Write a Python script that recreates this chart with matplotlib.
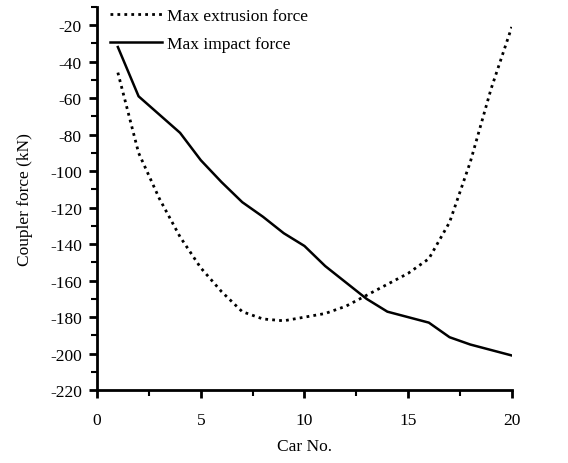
import numpy as np
import matplotlib.pyplot as plt

plt.rcParams['font.family'] = ['Liberation Serif', 'DejaVu Serif']
plt.rcParams['axes.unicode_minus'] = False

# Wagennummern und Kraefte (kN)
car_no = np.arange(1, 21)
extrusion = [-46, -90, -115, -136, -153, -166, -177, -181, -182, -180,
             -178, -174, -168, -162, -156, -148, -128, -95, -55, -21]
impact = [-32, -59, -69, -79, -94, -106, -117, -125, -134, -141,
          -152, -161, -170, -177, -180, -183, -191, -195, -198, -201]

fig = plt.figure(figsize=(5.68, 4.64), dpi=100)
ax = fig.add_axes([0.171, 0.157, 0.730, 0.826])

ax.plot(car_no, extrusion, color='black', linewidth=2.0, linestyle=(0, (1, 1.5)),
        label='Max extrusion force')
ax.plot(car_no, impact, color='black', linewidth=1.8, label='Max impact force')

ax.set_xlim(0, 20)
ax.set_ylim(-220, -10)
ax.set_xticks([0, 5, 10, 15, 20])
ax.set_xticks(np.arange(0, 20.1, 2.5), minor=True)
ax.set_yticks(np.arange(-220, -19, 20))
ax.set_yticks(np.arange(-220, -9, 10), minor=True)

for s in ['top', 'right']:
    ax.spines[s].set_visible(False)
for s in ['left', 'bottom']:
    ax.spines[s].set_linewidth(2)

ax.tick_params(which='major', direction='out', length=6, width=2, labelsize=12.5, pad=5)
ax.tick_params(which='minor', direction='out', length=4, width=1.5)
ax.tick_params(axis='x', pad=10)

ax.set_xlabel('Car No.', fontsize=12.5, labelpad=7)
ax.set_ylabel('Coupler force (kN)', fontsize=12.5, labelpad=12)

fig.legend(loc='upper left', bbox_to_anchor=(0.166, 1.015), frameon=False,
           fontsize=12.5, handlelength=3.0, labelspacing=0.7, handletextpad=0.3)

fig.savefig('out.png', dpi=100)
